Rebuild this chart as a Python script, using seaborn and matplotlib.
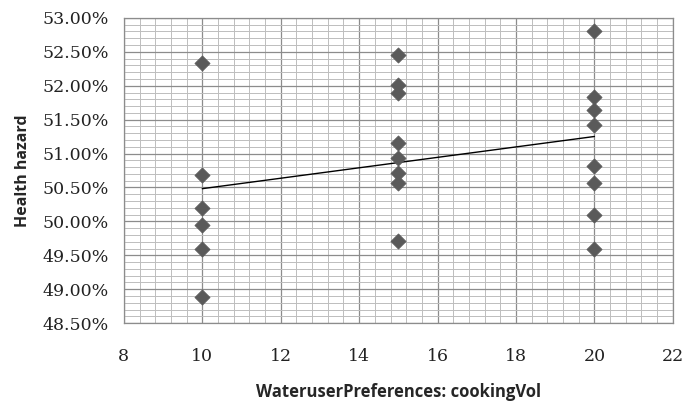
import numpy as np
import pandas as pd
import matplotlib
matplotlib.use('Agg')
import matplotlib.pyplot as plt
import seaborn as sns
from matplotlib.ticker import MultipleLocator, PercentFormatter

# cooking volume (x) and health hazard in percent (y)
vol_10 = [52.34, 50.68, 50.20, 49.95, 49.59, 48.89]
vol_15 = [52.45, 52.01, 51.89, 51.16, 50.93, 50.71, 50.57, 49.71]
vol_20 = [52.80, 51.84, 51.64, 51.42, 50.81, 50.57, 50.10, 49.59]
cooking_vol = [10] * len(vol_10) + [15] * len(vol_15) + [20] * len(vol_20)
hazard = vol_10 + vol_15 + vol_20

df = pd.DataFrame({'cookingVol': cooking_vol, 'hazard': hazard})

sns.set_style('white')
fig = plt.figure(figsize=(6.88, 4.07), dpi=100)
ax = fig.add_axes([0.180, 0.206, 0.798, 0.750])

sns.regplot(x='cookingVol', y='hazard', data=df, ax=ax, scatter=False,
            ci=None, truncate=True, line_kws={'color': 'black', 'lw': 1.0})
sns.scatterplot(x='cookingVol', y='hazard', data=df, ax=ax, marker='D',
                s=60, color='#5a5a5a', edgecolor='#5a5a5a', linewidth=0.5,
                zorder=5)

ax.set_xlim(8, 22)
ax.set_ylim(48.5, 53.0)
ax.xaxis.set_major_locator(MultipleLocator(2))
ax.xaxis.set_minor_locator(MultipleLocator(0.4))
ax.yaxis.set_major_locator(MultipleLocator(0.5))
ax.yaxis.set_minor_locator(MultipleLocator(0.1))
ax.yaxis.set_major_formatter(PercentFormatter(100, decimals=2))

ax.grid(which='major', color='#8c8c8c', lw=0.9)
ax.grid(which='minor', color='#bdbdbd', lw=0.7)
ax.set_axisbelow(True)

for s in ['left', 'bottom', 'top', 'right']:
    ax.spines[s].set_color('#8c8c8c')
    ax.spines[s].set_linewidth(0.9)

ax.tick_params(which='major', direction='out', length=5, color='#8c8c8c',
               width=0.9, pad=6)
ax.tick_params(which='minor', length=0)
for lab in ax.get_xticklabels() + ax.get_yticklabels():
    lab.set_fontfamily('DejaVu Serif')
    lab.set_fontsize(12.5)
    lab.set_color('#222222')
ax.tick_params(axis='x', pad=13)

ax.set_xlabel('WateruserPreferences: cookingVol', fontsize=12,
              fontweight='bold', fontfamily='Open Sans', labelpad=13)
ax.set_ylabel('Health hazard', fontsize=11.5, fontweight='bold',
              fontfamily='Open Sans', labelpad=8)

plt.savefig('out.png', dpi=100)
